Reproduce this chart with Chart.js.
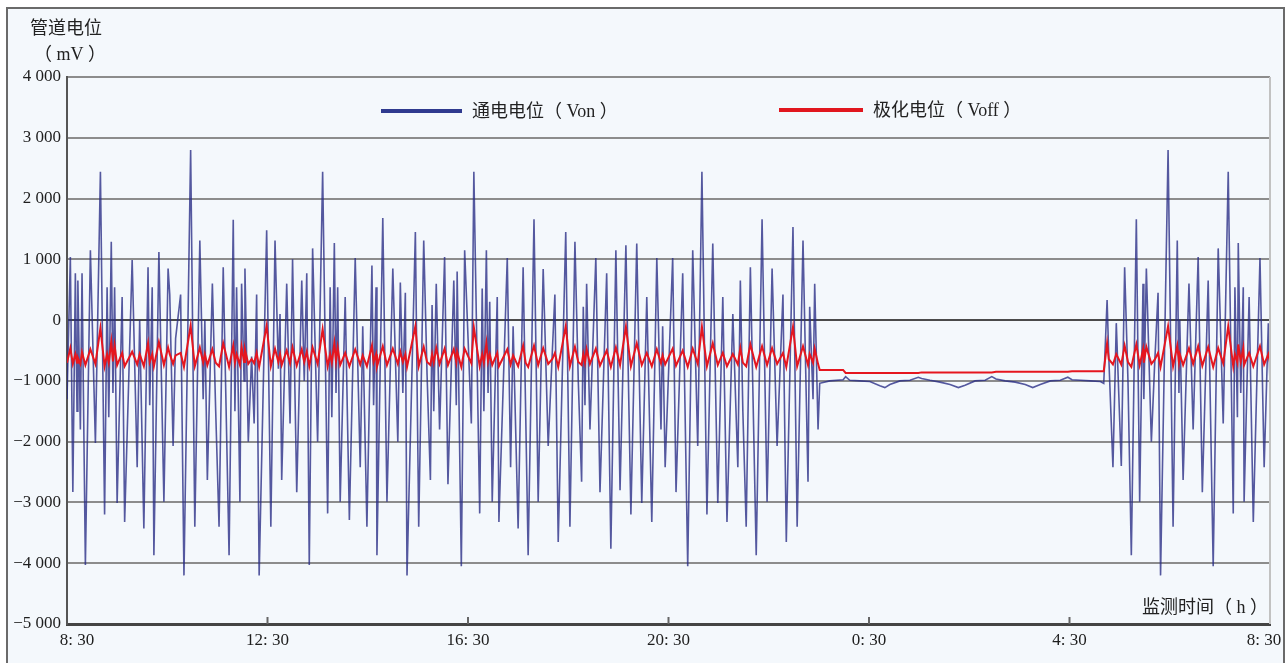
<!DOCTYPE html>
<html>
<head>
<meta charset="utf-8">
<script src="https://cdn.jsdelivr.net/npm/chart.js@4.4.0/dist/chart.umd.min.js"></script>
<style>
html, body { margin: 0; padding: 0; background: #fff; }
#wrap { width: 1286px; height: 663px; }
</style>
</head>
<body>
<div id="wrap"><canvas id="chart" width="1286" height="663"></canvas></div>
<script>
// minutes after 8:30, daytime section (cathodic protection disturbed)
const dayMinutes = [
  0, 4, 7, 10, 12, 13, 16, 18, 22, 28,
  34, 40, 45, 48, 50, 53, 55, 57, 60, 66,
  69, 78, 84, 87, 92, 97, 99, 102, 104, 110,
  116, 121, 123, 127, 130, 136, 140, 148, 153, 159,
  163, 165, 168, 174, 178, 182, 187, 194, 199, 201,
  203, 207, 209, 212, 213, 217, 221, 224, 227, 230,
  239, 244, 249, 253, 255, 257, 263, 267, 270, 275,
  281, 284, 287, 290, 294, 300, 306, 312, 315, 317,
  320, 322, 324, 327, 333, 338, 345, 351, 354, 359,
  365, 367, 370, 371, 378, 383, 390, 396, 399, 402,
  405, 407, 417, 421, 427, 431, 435, 437, 439, 442,
  446, 452, 456, 463, 466, 467, 472, 476, 484, 487,
  494, 497, 499, 502, 504, 506, 509, 515, 517, 527,
  531, 534, 540, 546, 549, 552, 559, 564, 570, 576,
  581, 584, 588, 597, 602, 608, 612, 616, 618, 620,
  622, 626, 633, 638, 646, 651, 657, 662, 669, 675,
  682, 688, 694, 700, 706, 711, 713, 716, 725, 729,
  737, 743, 749, 755, 760, 766, 773, 779, 785, 790,
  797, 803, 806, 809, 813, 818, 825, 832, 838, 844,
  850, 857, 861, 869, 874, 881, 887, 889, 893, 895,
  899
];
const dayVon = [
  -1300, 1040, -2830, 770, -1500, 650, -1800, 770, -4030, 1150,
  -2020, 2440, -3200, 540, -1600, 1290, -1200, 540, -3010, 380,
  -3320, 990, -2420, 0, -3430, 870, -1400, 540, -3870, 1120,
  -2990, 850, 420, -2070, -300, 420, -4200, 2800, -3400, 1310,
  -1300, 0, -2630, 600, -1500, -3400, 870, -3870, 1650, -1500,
  540, -2990, 600, -1000, 850, -2000, -600, -1700, 420, -4200,
  1480, -3400, 1310, -800, 100, -2630, 600, -1700, 1000, -2830,
  650, -1000, 770, -4030, 1180, -2000, 2440, -3180, 540, -1600,
  1270, -1200, 540, -2990, 380, -3290, 1020, -2420, -100, -3400,
  900, -1400, 540, -3870, 1680, -2990, 850, -2000, 620, -1200,
  450, -4200, 1450, -3400, 1310, -900, -2630, 250, -1500, 600,
  -1800, 1040, -2700, 650, -1400, 800, -4050, 1150, -1700, 2440,
  -3180, 520, -1500, 1150, -1200, 300, -2990, 380, -3320, 1020,
  -2420, -100, -3430, 870, -1500, -3870, 1660, -2990, 840, -2070,
  -500, 420, -3650, 1450, -3400, 1290, -1000, -2660, 220, -1400,
  600, -1800, 1020, -2830, 770, -3760, 1150, -2800, 1230, -3200,
  1260, -3010, 380, -3320, 1020, -1800, -100, -2420, 1020, -2830,
  770, -4050, 1150, -2070, 2440, -3200, 1260, -3010, 380, -3320,
  100, -2420, 650, -1500, -3400, 870, -3870, 1660, -2990, 850,
  -2070, 420, -3650, 1530, -3400, 1310, -2660, 220, -1300, 600,
  -1800
];
const dayVoff = [
  -700, -460, -720, -560, -700, -620, -720, -530, -740, -480,
  -720, -130, -760, -560, -700, -350, -680, -420, -740, -540,
  -760, -520, -730, -560, -760, -380, -690, -560, -760, -360,
  -740, -450, -560, -720, -580, -540, -770, -90, -760, -450,
  -700, -560, -740, -480, -700, -760, -380, -770, -420, -700,
  -560, -740, -440, -690, -480, -720, -640, -710, -540, -770,
  -90, -760, -470, -690, -560, -740, -500, -710, -450, -750,
  -480, -690, -520, -760, -450, -720, -150, -760, -560, -700,
  -380, -680, -450, -740, -540, -760, -480, -730, -580, -760,
  -420, -690, -560, -770, -430, -740, -470, -720, -520, -690,
  -560, -770, -100, -760, -440, -690, -740, -560, -700, -460,
  -720, -470, -740, -480, -690, -520, -770, -470, -710, -120,
  -760, -560, -700, -380, -680, -560, -740, -540, -760, -480,
  -730, -580, -760, -420, -700, -770, -420, -740, -460, -720,
  -640, -540, -770, -100, -760, -440, -690, -740, -560, -700,
  -480, -720, -470, -750, -500, -770, -450, -740, -110, -760,
  -380, -740, -540, -760, -480, -710, -580, -730, -470, -750,
  -500, -770, -470, -720, -110, -760, -380, -740, -540, -760,
  -560, -730, -460, -700, -760, -400, -770, -430, -740, -460,
  -720, -540, -770, -110, -760, -430, -740, -560, -700, -470,
  -720
];

// night section, interference gone
const nightMinutes = [
  901, 913, 929, 932, 937, 949, 961, 973, 979, 985,
  997, 1009, 1019, 1023, 1033, 1045, 1057, 1067, 1075, 1087,
  1099, 1107, 1112, 1123, 1135, 1147, 1156, 1165, 1177, 1189,
  1198, 1203, 1213, 1225, 1237, 1241
];
const nightVon = [
  -1040, -1000, -980, -930, -990, -1000, -1010, -1080, -1110, -1060,
  -1000, -990, -940, -960, -990, -1020, -1060, -1110, -1070, -1000,
  -990, -930, -970, -1000, -1020, -1060, -1110, -1060, -1000, -990,
  -940, -980, -990, -1000, -1010, -1040
];
const nightVoff = [
  -820, -820, -820, -870, -870, -870, -870, -870, -870, -870,
  -870, -870, -870, -860, -860, -860, -860, -860, -860, -860,
  -860, -860, -850, -850, -850, -850, -850, -850, -850, -850,
  -850, -840, -840, -840, -840, -840
];

// morning section, interference back
const mornMinutes = [
  1245, 1247, 1252, 1256, 1262, 1266, 1270, 1274, 1280, 1284,
  1288, 1289, 1292, 1298, 1302, 1306, 1309, 1318, 1324, 1329,
  1331, 1332, 1336, 1343, 1348, 1354, 1359, 1366, 1372, 1378,
  1384, 1390, 1396, 1398, 1401, 1402, 1405, 1408, 1409, 1415,
  1420, 1428, 1433, 1438, 1440
];
const mornVon = [
  330, -600, -2420, -50, -2400, 870, -1000, -3870, 1660, -2990,
  600, -1300, 850, -2000, -700, 450, -4200, 2800, -3400, 1310,
  -1200, 0, -2630, 600, -1800, 1040, -2830, 650, -4050, 1180,
  -1700, 2440, -3180, 540, -1600, 1270, -1200, 540, -2990, 380,
  -3320, 1020, -2420, -50, -1050
];
const mornVoff = [
  -380, -640, -730, -560, -730, -420, -690, -770, -400, -740,
  -480, -700, -440, -720, -650, -540, -770, -100, -760, -420,
  -690, -560, -740, -460, -720, -430, -750, -440, -770, -460,
  -710, -100, -760, -560, -700, -400, -680, -460, -740, -540,
  -760, -430, -730, -560, -700
];

const xTickLabels = ['8: 30', '12: 30', '16: 30', '20: 30', '0: 30', '4: 30', '8: 30'];

const minutes = dayMinutes.concat(nightMinutes, mornMinutes);
const von = dayVon.concat(nightVon, mornVon);
const voff = dayVoff.concat(nightVoff, mornVoff);

const serif = '"Liberation Serif", "Noto Sans CJK SC", serif';
const cjk = '"Liberation Serif", "Noto Sans CJK SC", sans-serif';

// frame, inner ticks, tick labels, titles and the legend
const decor = {
  id: 'decor',
  beforeDraw(chart) {
    const c = chart.ctx;
    c.save();
    c.fillStyle = '#ffffff';
    c.fillRect(0, 0, chart.width, chart.height);
    c.fillStyle = '#f4f8fc';
    c.fillRect(7, 8, 1277, 660);
    c.strokeStyle = '#6a6a6a';
    c.lineWidth = 2;
    c.strokeRect(7, 8, 1277, 664);
    c.restore();
  },
  afterDraw(chart) {
    const c = chart.ctx;
    const a = chart.chartArea;
    const x = chart.scales.x;
    c.save();
    c.strokeStyle = '#c2c2c2';
    c.lineWidth = 2;
    c.beginPath();
    c.moveTo(a.right, a.top);
    c.lineTo(a.right, a.bottom);
    c.stroke();

    c.strokeStyle = '#666';
    c.lineWidth = 2;
    c.fillStyle = '#1e1e1e';
    c.font = '17px ' + serif;
    c.textAlign = 'center';
    c.textBaseline = 'middle';
    x.ticks.forEach((t, i) => {
      const px = x.getPixelForValue(t.value);
      if (t.value > 0 && t.value < 1440) {
        c.beginPath();
        c.moveTo(px, a.bottom);
        c.lineTo(px, a.bottom - 7);
        c.stroke();
      }
      // keep the end labels inside the frame
      const cx = Math.min(Math.max(px, a.left + 10), a.right - 6);
      c.fillText(xTickLabels[i], cx, a.bottom + 17);
    });

    c.fillStyle = '#222';
    c.font = '18px ' + cjk;
    c.textAlign = 'left';
    c.fillText('管道电位', 30, 29);
    c.textAlign = 'center';
    c.fillText('（ mV ）', 70, 55);
    c.textAlign = 'right';
    c.fillText('监测时间（ h ）', 1268, 608);

    // legend
    c.lineWidth = 4;
    c.strokeStyle = '#2f3a8f';
    c.beginPath(); c.moveTo(381, 111); c.lineTo(462, 111); c.stroke();
    c.strokeStyle = '#e1161e';
    c.beginPath(); c.moveTo(779, 110); c.lineTo(863, 110); c.stroke();
    c.textAlign = 'left';
    c.fillText('通电电位（ Von ）', 472, 112);
    c.fillText('极化电位（ Voff ）', 873, 111);
    c.restore();
  }
};

const config = {
  type: 'line',
  data: {
    datasets: [{
      label: '极化电位（Voff）',
      data: minutes.map((m, i) => ({ x: m, y: voff[i] })),
      borderColor: '#e5161f',
      borderWidth: 2,
      pointRadius: 0,
      tension: 0,
      order: 1
    }, {
      label: '通电电位（Von）',
      data: minutes.map((m, i) => ({ x: m, y: von[i] })),
      borderColor: 'rgba(38, 42, 132, 0.78)',
      borderWidth: 1.6,
      pointRadius: 0,
      tension: 0,
      order: 2
    }]
  },
  options: {
    responsive: false,
    animation: false,
    events: [],
    layout: { padding: { top: 77, right: 16, left: 0, bottom: 0 } },
    plugins: {
      legend: { display: false },
      tooltip: { enabled: false }
    },
    scales: {
      x: {
        type: 'linear',
        min: 0,
        max: 1440,
        grid: { display: false, drawTicks: false },
        border: { display: true, color: '#444', width: 3 },
        ticks: {
          display: false,
          stepSize: 240,
          autoSkip: false,
          maxRotation: 0
        },
        afterFit(scale) {
          scale.height = 39;
          scale.paddingLeft = 0;
          scale.paddingRight = 0;
        }
      },
      y: {
        min: -5000,
        max: 4000,
        grid: {
          drawTicks: false,
          color: ctx => ctx.tick.value === 0 ? '#4a4a4a' : '#8c8c8c',
          lineWidth: 2
        },
        border: { display: true, color: '#555', width: 2 },
        ticks: {
          stepSize: 1000,
          padding: 6,
          color: '#1e1e1e',
          font: { family: serif, size: 17 },
          callback: v => v === 0 ? '0' : (v < 0 ? '−' : '') + Math.abs(v / 1000) + ' 000'
        },
        afterFit(scale) {
          scale.width = 67;
        }
      }
    }
  },
  plugins: [decor]
};

new Chart(document.getElementById('chart').getContext('2d'), config);
</script>
</body>
</html>
